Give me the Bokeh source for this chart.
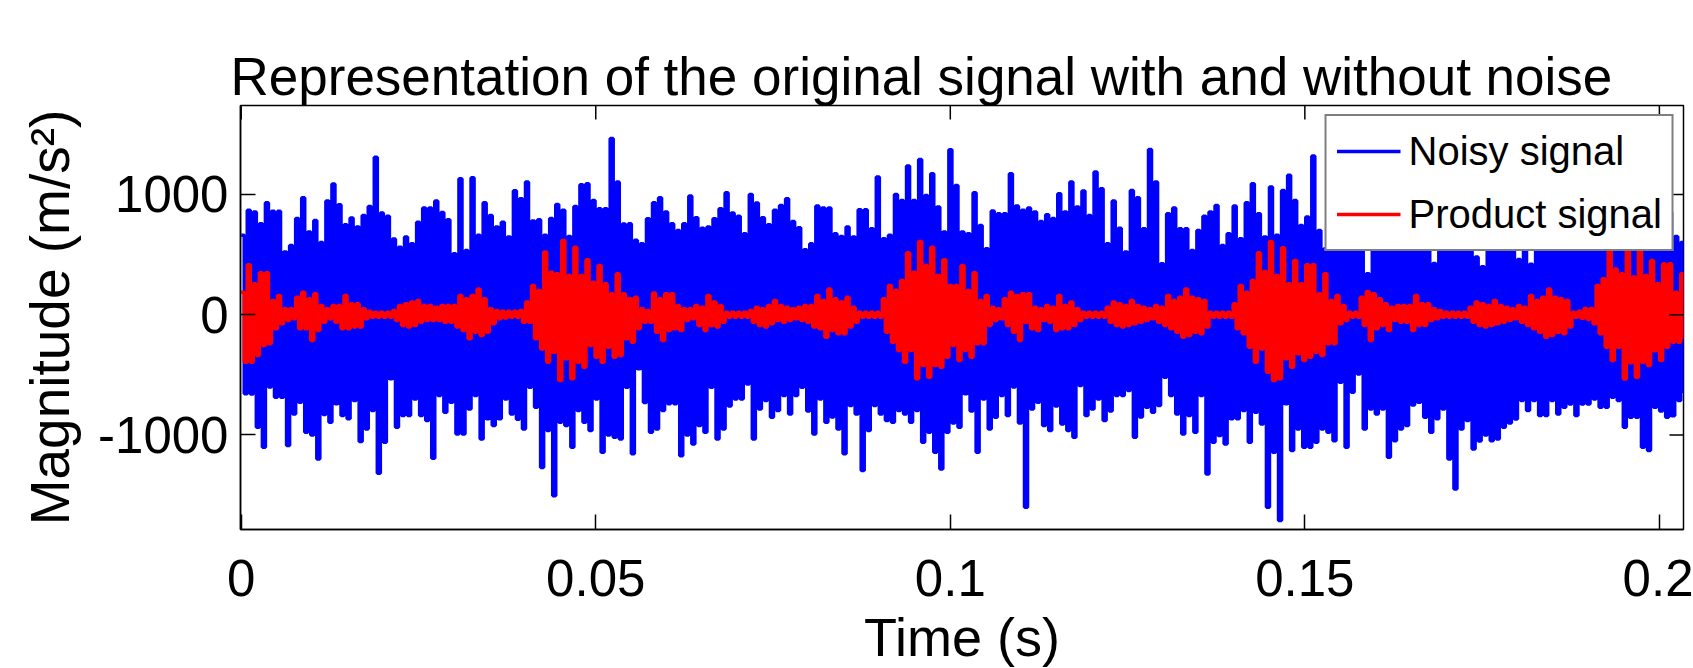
from bokeh.plotting import figure
from bokeh.models import Range1d, FixedTicker
from bokeh.embed import file_html
from bokeh.resources import INLINE

# ---------------- data (one column ~ 0.00085 s) ----------------
col_dt = 0.000853

noisy_hi = [
    660, 868, 854, 757, 931, 860, 860, 521, 576, 800, 973, 687, 784, 600, 945, 1087, 915, 748, 804, 729,
    826, 901, 1310, 845, 820, 630, 562, 646, 590, 770, 887, 887, 945, 850, 790, 507, 1131, 535, 1139, 660,
    931, 826, 729, 770, 646, 1031, 965, 1103, 780, 790, 660, 800, 917, 868, 650, 900, 1080, 1089, 950, 881,
    881, 1465, 1103, 755, 757, 620, 590, 798, 931, 973, 854, 757, 701, 757, 987, 806, 720, 729, 798, 881,
    1015, 845, 818, 673, 1000, 930, 806, 748, 868, 909, 965, 776, 723, 540, 590, 904, 887, 887, 673, 650,
    729, 646, 873, 873, 715, 1145, 632, 660, 1000, 950, 1236, 950, 1290, 992, 1173, 895, 687, 1373, 1075, 687,
    673, 1015, 743, 549, 862, 840, 840, 1173, 904, 868, 887, 854, 776, 832, 800, 1006, 854, 1103, 895, 1028,
    826, 1187, 1048, 590, 945, 720, 521, 1034, 973, 715, 1375, 1103, 424, 840, 887, 715, 715, 535, 700, 818,
    854, 909, 576, 673, 904, 632, 931, 1089, 840, 646, 1062, 660, 1034, 1159, 951, 743, 812, 1320, 701, 549,
    800, 700, 850, 750, 900, 800, 341, 850, 700, 900, 800, 850, 750, 900, 700, 800, 900, 426, 750, 800,
    850, 700, 950, 800, 480, 400, 900, 750, 1000, 800, 700, 460, 900, 420, 850, 1000, 700, 900, 800, 750,
    1050, 850, 700, 950, 800, 1100, 750, 900, 850, 1000, 700, 950, 800, 900, 750, 1000, 850, 650, 600,
]
noisy_lo = [
    -658, -660, -935, -1102, -600, -686, -686, -1088, -825, -728, -977, -1000, -1199, -830, -894, -741, -839, -866, -714, -1055,
    -950, -797, -1318, -1060, -533, -935, -839, -839, -700, -839, -880, -1193, -672, -811, -728, -991, -991, -783, -672, -1033,
    -866, -922, -866, -700, -825, -870, -950, -603, -769, -1270, -963, -1505, -894, -922, -1102, -797, -894, -963, -700, -1144,
    -1000, -1019, -1033, -603, -1157, -450, -730, -977, -950, -797, -741, -741, -1172, -1000, -1074, -922, -977, -603, -1033, -950,
    -760, -700, -700, -575, -1033, -783, -714, -852, -797, -672, -825, -672, -603, -800, -991, -700, -894, -850, -950, -1157,
    -755, -825, -1296, -963, -755, -825, -880, -894, -797, -825, -894, -797, -1060, -977, -1144, -1283, -977, -900, -935, -658,
    -800, -1144, -700, -950, -852, -672, -839, -600, -900, -1601, -783, -728, -922, -963, -760, -908, -963, -1019, -589, -839,
    -783, -700, -880, -800, -672, -672, -630, -1019, -850, -769, -811, -755, -520, -672, -825, -991, -839, -977, -672, -1324,
    -1060, -1005, -1074, -866, -866, -797, -1060, -811, -908, -1601, -1144, -1712, -741, -1130, -950, -1102, -1102, -1060, -950, -977,
    -1047, -561, -1102, -644, -492, -950, -783, -825, -783, -1185, -1047, -950, -922, -750, -728, -852, -977, -866, -783, -1200,
    -1449, -950, -880, -1116, -1050, -1000, -1047, -1033, -936, -900, -867, -714, -797, -714, -839, -839, -714, -825, -770, -742,
    -839, -742, -742, -700, -770, -770, -686, -714, -936, -853, -853, -1102, -1130, -770, -800, -853, -840, -714, -650,
]
product_hi = [
    188, 415, 257, 349, 349, 118, 160, 49, 49, 146, 188, 132, 174, 77, 49, 77, 77, 160, 91, 91,
    49, 30, 21, 21, 21, 35, 77, 91, 105, 118, 77, 77, 63, 77, 77, 77, 160, 132, 160, 215,
    132, 49, 35, 30, 30, 30, 35, 105, 243, 202, 521, 354, 340, 618, 327, 562, 327, 457, 271, 410,
    257, 174, 340, 174, 132, 146, 49, 35, 180, 132, 174, 174, 77, 49, 49, 77, 63, 160, 105, 77,
    21, 21, 21, 21, 35, 63, 49, 77, 118, 77, 63, 49, 63, 77, 77, 160, 118, 215, 132, 105,
    146, 63, 21, 21, 21, 21, 132, 243, 202, 285, 515, 354, 610, 410, 562, 327, 457, 243, 243, 410,
    202, 349, 118, 160, 63, 49, 132, 188, 160, 174, 174, 63, 49, 77, 63, 160, 77, 105, 49, 21,
    21, 21, 21, 63, 105, 91, 77, 118, 77, 63, 49, 77, 63, 160, 118, 146, 215, 146, 132, 118,
    21, 21, 21, 21, 91, 243, 188, 285, 515, 360, 610, 327, 557, 257, 451, 257, 415, 415, 174, 340,
    118, 160, 77, 21, 21, 146, 194, 174, 132, 91, 63, 77, 77, 77, 160, 91, 91, 49, 35, 21,
    21, 21, 21, 63, 105, 91, 77, 118, 77, 63, 49, 77, 63, 160, 118, 146, 215, 146, 132, 118,
    21, 30, 52, 52, 243, 300, 535, 380, 341, 535, 313, 535, 327, 451, 257, 423, 423, 188, 341,
]
product_lo = [
    -395, -395, -340, -256, -242, -117, -75, -48, -34, -117, -117, -214, -131, -62, -34, -62, -117, -117, -103, -103,
    -34, -20, -20, -20, -20, -48, -89, -103, -89, -62, -48, -48, -48, -62, -62, -103, -131, -200, -145, -173,
    -145, -75, -34, -28, -20, -20, -62, -62, -200, -284, -395, -311, -547, -367, -533, -395, -436, -256, -353, -395,
    -270, -353, -339, -200, -228, -117, -62, -62, -145, -214, -131, -117, -131, -48, -34, -89, -131, -89, -103, -62,
    -20, -20, -20, -20, -62, -89, -103, -75, -48, -62, -48, -34, -48, -62, -103, -117, -187, -131, -159, -159,
    -103, -62, -20, -20, -20, -20, -145, -228, -297, -395, -297, -533, -422, -519, -422, -436, -353, -256, -380, -297,
    -353, -242, -242, -89, -48, -34, -89, -145, -214, -62, -117, -131, -48, -62, -131, -117, -117, -89, -48, -20,
    -20, -20, -20, -62, -89, -103, -89, -75, -62, -48, -34, -62, -89, -117, -145, -187, -173, -145, -159, -103,
    -20, -20, -20, -20, -117, -159, -270, -395, -284, -478, -547, -533, -367, -436, -325, -380, -353, -311, -339, -242,
    -242, -75, -48, -20, -20, -89, -214, -117, -89, -131, -48, -62, -62, -131, -89, -89, -48, -34, -20, -20,
    -20, -20, -20, -62, -89, -103, -89, -75, -62, -48, -34, -62, -89, -117, -145, -187, -173, -145, -159, -103,
    -20, -30, -40, -76, -159, -270, -381, -270, -534, -400, -520, -395, -422, -300, -381, -270, -228, -228, -200,
]

x_tick_values = [0, 0.05, 0.1, 0.15, 0.2]
x_tick_labels = ["0", "0.05", "0.1", "0.15", "0.2"]
y_tick_values = [-1000, 0, 1000]
y_tick_labels = ["-1000", "0", "1000"]

title_text = "Representation of the original signal with and without noise"
x_label = "Time (s)"
y_label = "Magnitude (m/s²)"
series_names = ["Noisy signal", "Product signal"]
series_colors = ["#0000ff", "#ff0000"]

X_MIN, X_MAX = -0.0001, 0.2034
Y_MIN, Y_MAX = -1786, 1740
FRAME_W, FRAME_H = 1443, 424
TICK_LEN = 14  # px, inward ticks on the top / right box sides


def zigzag(hi, lo):
    n = min(len(hi), len(lo))
    xs, ys = [], []
    for k in range(n):
        t = k * col_dt
        xs += [t, t + col_dt / 2]
        ys += [hi[k], lo[k]]
    return xs, ys


FONT = "Liberation Sans"

p = figure(
    frame_width=FRAME_W, frame_height=FRAME_H,
    min_border_left=240, min_border_right=10, min_border_top=105, min_border_bottom=139,
    x_range=Range1d(X_MIN, X_MAX), y_range=Range1d(Y_MIN, Y_MAX),
    output_backend="svg", toolbar_location=None,
)
p.background_fill_color = "white"
p.border_fill_color = "white"
p.outline_line_color = "black"
p.outline_line_width = 1.5
p.grid.visible = False

xb, yb = zigzag(noisy_hi, noisy_lo)
xr, yr = zigzag(product_hi, product_lo)
p.step(xb, yb, mode="after", line_color=series_colors[0], line_width=3.5, legend_label=series_names[0])
p.step(xr, yr, mode="after", line_color=series_colors[1], line_width=3.5, legend_label=series_names[1])

# box ticks on the top and right sides (derived from tick values and ranges)
dy = TICK_LEN * (Y_MAX - Y_MIN) / FRAME_H
dx = TICK_LEN * (X_MAX - X_MIN) / FRAME_W
p.segment(x0=x_tick_values, x1=x_tick_values,
          y0=[Y_MAX] * len(x_tick_values), y1=[Y_MAX - dy] * len(x_tick_values),
          line_color="black", line_width=1.5)
p.segment(x0=[X_MAX] * len(y_tick_values), x1=[X_MAX - dx] * len(y_tick_values),
          y0=y_tick_values, y1=y_tick_values,
          line_color="black", line_width=1.5)

# main axes
xa = p.below[0]
ya = p.left[0]
xa.ticker = FixedTicker(ticks=x_tick_values)
ya.ticker = FixedTicker(ticks=y_tick_values)
xa.major_label_overrides = {v: s for v, s in zip(x_tick_values, x_tick_labels)}
ya.major_label_overrides = {v: s for v, s in zip(y_tick_values, y_tick_labels)}
for ax in (xa, ya):
    ax.major_tick_in = 15
    ax.major_tick_out = 0
    ax.minor_tick_line_color = None
    ax.major_tick_line_color = "black"
    ax.major_tick_line_width = 1.5
    ax.axis_line_color = "black"
    ax.axis_line_width = 1.5
    ax.major_label_text_font = FONT
    ax.major_label_text_font_size = "51px"
    ax.major_label_text_color = "black"
    ax.axis_label_text_font = FONT
    ax.axis_label_text_font_style = "normal"
    ax.axis_label_text_color = "black"
xa.axis_label = x_label
ya.axis_label = y_label
xa.axis_label_text_font_size = "54px"
ya.axis_label_text_font_size = "55px"
xa.major_label_standoff = 30
ya.major_label_standoff = 12
xa.axis_label_standoff = 8
ya.axis_label_standoff = 14

# title
p.title.text = title_text
p.title.text_font = FONT
p.title.text_font_size = "53px"
p.title.text_font_style = "normal"
p.title.text_color = "black"
p.title.align = "left"
p.title.offset = -10
p.title.standoff = 0

# legend
lg = p.legend[0]
lg.location = "top_right"
lg.margin = 9
lg.padding = 10
lg.spacing = 13
lg.label_height = 50
lg.glyph_height = 50
lg.glyph_width = 64
lg.label_standoff = 8
lg.label_text_font = FONT
lg.label_text_font_size = "40px"
lg.label_text_color = "black"
lg.border_line_color = "black"
lg.border_line_width = 2
lg.background_fill_color = "white"
lg.background_fill_alpha = 1.0

open("out.html", "w").write(file_html(p, INLINE))
